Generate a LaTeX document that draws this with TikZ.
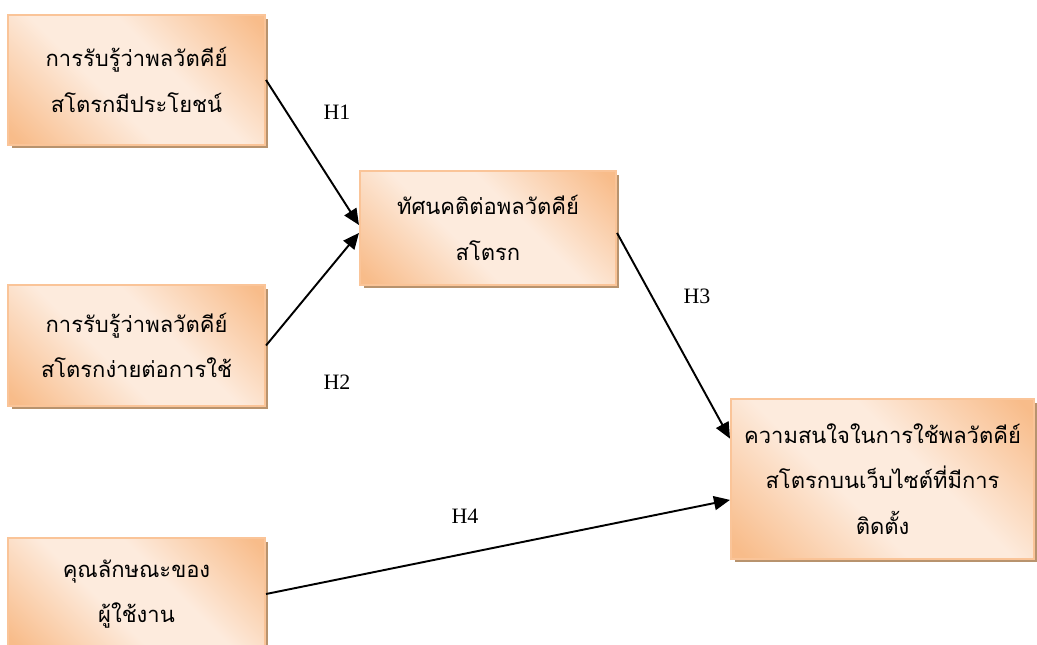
\documentclass[tikz,border=0pt]{standalone}
\usepackage{fontspec}
\setmainfont{Liberation Serif}
\newfontfamily\thaifont[Script=Thai]{Loma}
\usetikzlibrary{arrows.meta,shadows}
\definecolor{peachdark}{HTML}{F8BC8A}
\definecolor{peachlight}{HTML}{FDEBDD}
\definecolor{peachedge}{HTML}{FAC498}
\definecolor{shadowbrown}{HTML}{B8936E}
\pgfdeclarehorizontalshading{peachfade}{100bp}{color(0bp)=(peachdark); color(17bp)=(peachdark); color(42bp)=(peachlight); color(58bp)=(peachlight); color(83bp)=(peachdark); color(100bp)=(peachdark)}
\tikzset{
	varbox/.style={draw=peachedge, line width=1.2pt, shading=peachfade, shading angle=45,
		general shadow={fill=shadowbrown, shadow xshift=0.07cm, shadow yshift=-0.07cm},
		align=center, inner sep=2pt, font=\thaifont\fontsize{12.5}{26}\selectfont},
	hyparrow/.style={-{Triangle[length=3.2mm,width=2.8mm]}, line width=1.1pt},
	hyplabel/.style={font=\fontsize{12.5}{14}\selectfont}
}

\begin{document}
\begin{tikzpicture}[x=0.02cm, y=-0.02cm]
		%%%%% START %%%%%
		\useasboundingbox (0,0) rectangle (1037,645);
		
		\node[varbox, minimum width=5.14cm, minimum height=2.6cm] (useful) at (136.5,80) {การรับรู้ว่าพลวัตคีย์\\สโตรกมีประโยชน์};
		\node[varbox, minimum width=5.14cm, minimum height=2.42cm] (ease) at (136.5,345.5) {การรับรู้ว่าพลวัตคีย์\\สโตรกง่ายต่อการใช้};
		\node[varbox, minimum width=5.14cm, minimum height=2.24cm] (user) at (136.5,594) {คุณลักษณะของ\\ผู้ใช้งาน};
		
		\node[varbox, minimum width=5.12cm, minimum height=2.28cm] (attitude) at (488,228) {ทัศนคติต่อพลวัตคีย์\\สโตรก};
		\node[varbox, minimum width=6.06cm, minimum height=3.2cm] (intention) at (882.5,479) {ความสนใจในการใช้พลวัตคีย์\\สโตรกบนเว็บไซต์ที่มีการ\\ติดตั้ง};
		
		\draw[hyparrow] (useful.east) -- ([yshift=1.7pt]attitude.west);
		\draw[hyparrow] (ease.east) -- ([yshift=-2.8pt]attitude.west);
		\draw[hyparrow] ([yshift=-2.8pt]attitude.east) -- ([yshift=23pt]intention.west);
		\draw[hyparrow] (user.east) -- ([yshift=-11.9pt]intention.west);
		
		\node[hyplabel] (h1) at (337,112) {H1};
		\node[hyplabel] (h2) at (337,382) {H2};
		\node[hyplabel] (h3) at (697,296) {H3};
		\node[hyplabel] (h4) at (465,516) {H4};
		
		%%%%% END %%%%%
\end{tikzpicture}
\end{document}
